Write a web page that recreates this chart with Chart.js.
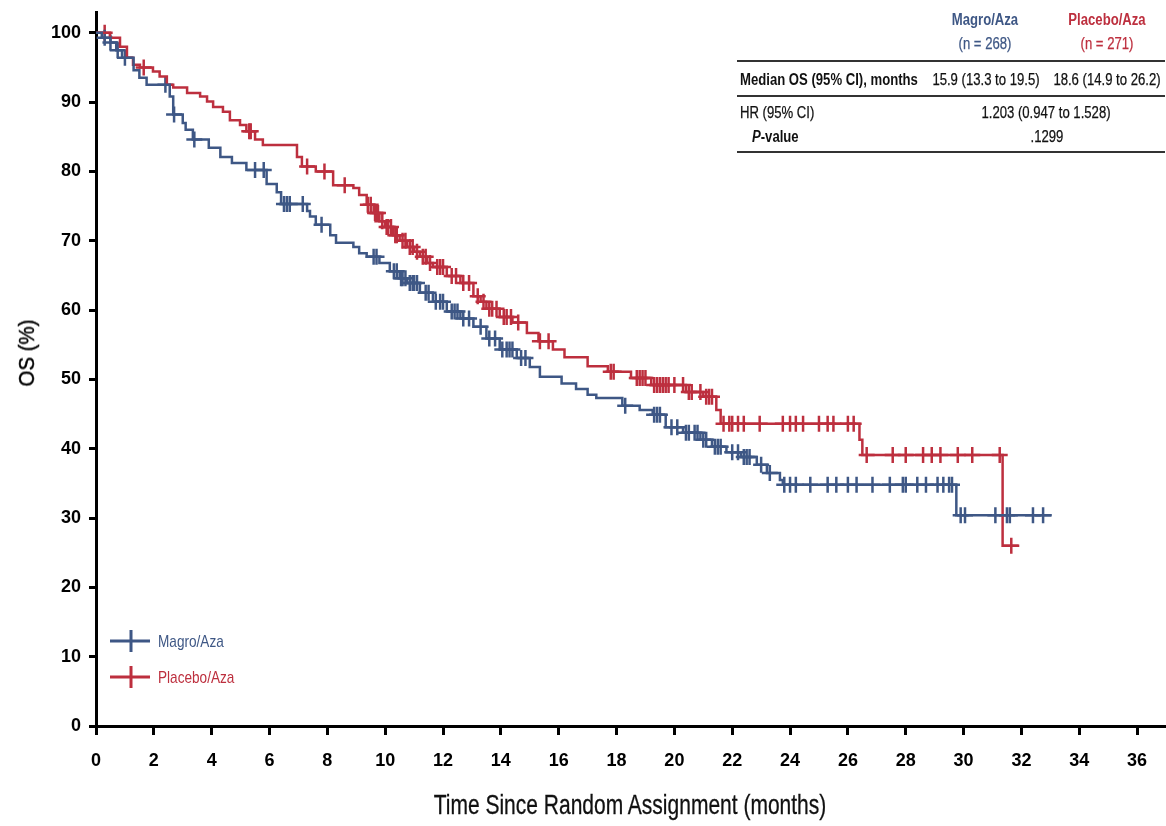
<!DOCTYPE html>
<html>
<head>
<meta charset="utf-8">
<script src="https://cdn.jsdelivr.net/npm/chart.js@4.4.1/dist/chart.umd.min.js"></script>
<style>
  body { margin: 0; background: #fff; }
  #wrap { position: relative; width: 1166px; height: 826px; overflow: hidden; }
  #chart { position: absolute; left: 0; top: 0; }
  .t { position: absolute; font-family: 'Liberation Sans', Arial, sans-serif; font-size: 16px; color: #111; white-space: nowrap; line-height: 18px; transform-origin: left top; transform: scaleX(0.82); -webkit-text-stroke: 0.25px currentColor; }
  .c { transform-origin: center top; transform: translateX(-50%) scaleX(0.82); }
  .b { font-weight: bold; -webkit-text-stroke: 0; }
  .rule { position: absolute; left: 737px; width: 428px; background: #333; }
  #xtitle { position: absolute; left: 630px; top: 788px; font-family: 'Liberation Sans', Arial, sans-serif; font-size: 28px; line-height: 34px; color: #111; white-space: nowrap; transform: translateX(-50%) scaleX(0.75); -webkit-text-stroke: 0.3px #111; }
  #ytitle { position: absolute; left: 27px; top: 353px; font-family: 'Liberation Sans', Arial, sans-serif; font-size: 22px; line-height: 26px; color: #000; white-space: nowrap; transform: translate(-50%, -50%) rotate(-90deg) scaleX(0.93); -webkit-text-stroke: 0.4px #000; }
</style>
</head>
<body>
<div id="wrap">
  <canvas id="chart" width="1166" height="826"></canvas>

  <div class="t c b" style="left:985px; top:11px; color:#3e5785;">Magro/Aza</div>
  <div class="t c" style="left:985px; top:35px; color:#3e5785;">(n = 268)</div>
  <div class="t c b" style="left:1107px; top:11px; color:#bd2f3e;">Placebo/Aza</div>
  <div class="t c" style="left:1107px; top:35px; color:#bd2f3e;">(n = 271)</div>
  <div class="rule" style="top:60px; height:2px;"></div>
  <div class="t b" style="left:740px; top:71px;">Median OS (95% CI), months</div>
  <div class="t c" style="left:986px; top:71px;">15.9 (13.3 to 19.5)</div>
  <div class="t c" style="left:1107px; top:71px;">18.6 (14.9 to 26.2)</div>
  <div class="rule" style="top:95px; height:1.5px;"></div>
  <div class="t" style="left:740px; top:104px;">HR (95% CI)</div>
  <div class="t c" style="left:1046px; top:104px;">1.203 (0.947 to 1.528)</div>
  <div class="t b" style="left:752px; top:128px;"><i>P</i>-value</div>
  <div class="t c" style="left:1047px; top:128px;">.1299</div>
  <div class="rule" style="top:151px; height:1.5px;"></div>

  <div id="xtitle">Time Since Random Assignment (months)</div>
  <div id="ytitle">OS (%)</div>
</div>

<script>
const FONT = "'Liberation Sans', Arial, sans-serif";
const BLUE = '#3e5785';
const RED = '#bd2f3e';

const seriesNames = ['Magro/Aza', 'Placebo/Aza'];
const xTicks = [0, 2, 4, 6, 8, 10, 12, 14, 16, 18, 20, 22, 24, 26, 28, 30, 32, 34, 36];
const yTicks = [0, 10, 20, 30, 40, 50, 60, 70, 80, 90, 100];

// Magro/Aza survival steps (months, %)
const magroTimes = [0, 0.2, 0.5, 0.7, 0.9, 1.3, 1.5, 1.75, 2.55, 2.67, 3.0, 3.1, 3.35, 3.9, 4.3, 4.7, 5.2, 5.9, 6.25, 6.4,
  7.3, 7.4, 7.6, 8.1, 8.3, 8.9, 9.1, 9.36, 9.8, 10.16, 10.5, 10.75, 11.2, 11.65, 12.13, 12.6, 13.05, 13.5, 13.96, 14.55,
  15.0, 15.35, 16.1, 16.6, 17.0, 17.3, 18.2, 18.8, 19.25, 19.7, 20.3, 20.9, 21.3, 21.8, 22.3, 22.85, 23.2, 23.65, 23.75, 29.75, 33.05];
const magroSurv = [100, 99.3, 98.6, 97.5, 96.4, 94.6, 93.5, 92.5, 90.8, 88.2, 87, 86, 84.6, 83.4, 82.1, 81.2, 80.2, 78.2, 77, 75.3,
  74.3, 73.5, 72.3, 70.8, 69.7, 69.1, 68.2, 67.7, 66.8, 65.6, 64.6, 63.9, 62.5, 61.2, 59.8, 58.8, 57.6, 55.9, 54.3, 53.1,
  51.8, 50.4, 49.4, 48.6, 47.8, 47.3, 46.2, 45.6, 44.9, 43.1, 42.3, 41.3, 40.3, 39.5, 38.8, 37.7, 36.5, 35.5, 34.8, 30.4, 30.4];

// Magro/Aza censored patients
const magroCensorTimes = [
  0.3, 0.5, 0.75, 1.0, 2.4, 2.7, 3.4, 5.5, 5.8, 6.5, 6.6, 6.7, 7.15, 7.8,
  9.6, 9.7, 10.3, 10.4, 10.55, 10.6, 10.7, 10.85, 10.95, 11.0, 11.1, 11.4, 11.5,
  11.75, 11.9, 12.0, 12.3, 12.4, 12.5, 12.7, 12.9, 13.3, 13.6, 13.8, 14.05, 14.2, 14.3, 14.4, 14.7, 14.85,
  18.3, 19.3, 19.4, 19.5, 19.9, 20.1, 20.4, 20.5, 20.7, 20.8, 21.0, 21.1, 21.4, 21.5, 21.6,
  22.0, 22.2, 22.4, 22.5, 22.6, 23.0, 23.3, 23.8,
  24.0, 24.2, 24.7, 25.3, 25.6, 26.0, 26.3, 26.85, 27.45, 27.9, 28.0, 28.4, 28.7, 29.1, 29.3, 29.5, 29.6,
  29.9, 30.05, 31.1, 31.5, 31.6, 32.4, 32.75];
const magroCensorSurv = [
  99.3, 98.6, 97.5, 96.4, 92.5, 88.2, 84.6, 80.2, 80.2, 75.3, 75.3, 75.3, 75.3, 72.3,
  67.7, 67.7, 65.6, 65.6, 64.6, 64.6, 64.6, 63.9, 63.9, 63.9, 63.9, 62.5, 62.5,
  61.2, 61.2, 61.2, 59.8, 59.8, 59.8, 58.8, 58.8, 57.6, 55.9, 55.9, 54.3, 54.3, 54.3, 54.3, 53.1, 53.1,
  46.2, 44.9, 44.9, 44.9, 43.1, 43.1, 42.3, 42.3, 42.3, 42.3, 41.3, 41.3, 40.3, 40.3, 40.3,
  39.5, 39.5, 38.8, 38.8, 38.8, 37.7, 36.5, 34.8,
  34.8, 34.8, 34.8, 34.8, 34.8, 34.8, 34.8, 34.8, 34.8, 34.8, 34.8, 34.8, 34.8, 34.8, 34.8, 34.8, 34.8,
  30.4, 30.4, 30.4, 30.4, 30.4, 30.4, 30.4];

// Placebo/Aza survival steps (months, %)
const placeboTimes = [0, 0.48, 0.83, 1.07, 1.28, 1.52, 1.97, 2.2, 2.45, 2.67, 3.15, 3.6, 3.84, 4.05, 4.39, 4.63, 4.98, 5.2, 5.5, 5.77,
  6.95, 7.12, 7.6, 8.2, 8.9, 9.1, 9.36, 9.6, 9.8, 10.0, 10.27, 10.5, 10.75, 11.0, 11.2, 11.45, 11.65, 12.13, 12.6, 13.05,
  13.3, 13.5, 13.96, 14.4, 14.9, 15.3, 15.8, 16.2, 17.0, 17.7, 18.5, 19.2, 20.4, 21.0, 21.45, 21.6, 26.4, 26.5, 31.35, 31.9];
const placeboSurv = [100, 99.3, 98, 96.4, 95.4, 95, 94.4, 93.7, 92.5, 92.1, 91.3, 90.8, 90.1, 89.3, 88.6, 87.4, 86.7, 85.8, 84.6, 83.8,
  82.1, 80.7, 80.0, 78.0, 77.6, 76.6, 75.2, 74, 72.8, 72, 70.8, 70, 69.1, 68.4, 67.7, 66.8, 66.2, 64.9, 63.9, 62,
  61.2, 60.2, 59, 58.2, 56.7, 55.5, 54.3, 53.2, 51.9, 51.1, 50.2, 49.2, 48.2, 47.5, 45.6, 43.6, 41.3, 39.1, 26.0, 26.0];

// Placebo/Aza censored patients
const placeboCensorTimes = [
  0.3, 1.65, 5.3, 5.35, 7.3, 7.9, 8.6, 9.4, 9.5, 9.65, 9.7, 9.75, 9.9, 10.05, 10.1, 10.2, 10.35, 10.4,
  10.6, 10.7, 10.85, 10.95, 11.1, 11.3, 11.4, 11.55, 11.8, 11.9, 12.0, 12.3, 12.45, 12.7, 12.9,
  13.2, 13.4, 13.6, 13.7, 13.85, 14.1, 14.2, 14.35, 14.6, 15.35, 15.65, 17.8, 17.9,
  18.7, 18.8, 18.9, 19.0, 19.3, 19.4, 19.5, 19.6, 19.7, 19.8, 20.0, 20.3, 20.5, 20.6, 20.9, 21.1, 21.2, 21.3,
  21.7, 21.9, 22.0, 22.2, 22.4, 22.95, 23.75, 24.0, 24.2, 24.45, 25.0, 25.3, 25.5, 26.0, 26.2,
  26.65, 27.55, 28.0, 28.6, 28.9, 29.2, 29.8, 30.3, 31.25, 31.65];
const placeboCensorSurv = [
  100, 95, 85.8, 85.8, 80.7, 80.0, 78.0, 75.2, 75.2, 74, 74, 74, 72.8, 72, 72, 72, 70.8, 70.8,
  70, 70, 69.1, 69.1, 68.4, 67.7, 67.7, 66.8, 66.2, 66.2, 66.2, 64.9, 64.9, 63.9, 63.9,
  62, 61.2, 60.2, 60.2, 60.2, 59, 59, 59, 58.2, 55.5, 55.5, 51.1, 51.1,
  50.2, 50.2, 50.2, 50.2, 49.2, 49.2, 49.2, 49.2, 49.2, 49.2, 49.2, 49.2, 48.2, 48.2, 48.2, 47.5, 47.5, 47.5,
  43.6, 43.6, 43.6, 43.6, 43.6, 43.6, 43.6, 43.6, 43.6, 43.6, 43.6, 43.6, 43.6, 43.6, 43.6,
  39.1, 39.1, 39.1, 39.1, 39.1, 39.1, 39.1, 39.1, 39.1, 26.0];

const pairs = (xs, ys) => xs.map((x, i) => ({ x: x, y: ys[i] }));

// legend drawn inside the plot, lower left
const legendPlugin = {
  id: 'kmLegend',
  afterDatasetsDraw(chart) {
    const ctx = chart.ctx;
    const items = [
      { label: seriesNames[0], color: BLUE, y: 641 },
      { label: seriesNames[1], color: RED, y: 677 }
    ];
    ctx.save();
    items.forEach(it => {
      ctx.strokeStyle = it.color;
      ctx.lineWidth = 3;
      ctx.beginPath();
      ctx.moveTo(110, it.y); ctx.lineTo(150, it.y);
      ctx.moveTo(131, it.y - 11); ctx.lineTo(131, it.y + 11);
      ctx.stroke();
      ctx.save();
      ctx.translate(158, it.y + 1);
      ctx.scale(0.8, 1);
      ctx.fillStyle = it.color;
      ctx.font = '17px ' + FONT;
      ctx.textBaseline = 'middle';
      ctx.fillText(it.label, 0, 0);
      ctx.restore();
    });
    ctx.restore();
  }
};

new Chart(document.getElementById('chart'), {
  type: 'scatter',
  data: {
    datasets: [
      {
        label: seriesNames[0],
        data: pairs(magroTimes, magroSurv),
        showLine: true, stepped: 'before',
        borderColor: BLUE, borderWidth: 2.5, pointRadius: 0
      },
      {
        label: seriesNames[1],
        data: pairs(placeboTimes, placeboSurv),
        showLine: true, stepped: 'before',
        borderColor: RED, borderWidth: 2.5, pointRadius: 0
      },
      {
        label: seriesNames[0] + ' censored',
        data: pairs(magroCensorTimes, magroCensorSurv),
        pointStyle: 'cross', pointRadius: 8, borderColor: BLUE, borderWidth: 2.5
      },
      {
        label: seriesNames[1] + ' censored',
        data: pairs(placeboCensorTimes, placeboCensorSurv),
        pointStyle: 'cross', pointRadius: 8, borderColor: RED, borderWidth: 2.5
      }
    ]
  },
  options: {
    responsive: false,
    animation: false,
    layout: { autoPadding: false, padding: { top: 12, right: 0, bottom: 0, left: 0 } },
    plugins: { legend: { display: false }, tooltip: { enabled: false } },
    scales: {
      x: {
        type: 'linear', min: 0, max: 37,
        afterBuildTicks: s => { s.ticks = xTicks.map(v => ({ value: v })); },
        afterFit: s => { s.height = 100; s.paddingLeft = 0; s.paddingRight = 0; },
        ticks: { color: '#000', font: { family: FONT, size: 18, weight: 'bold' }, padding: 15, maxRotation: 0 },
        grid: { drawOnChartArea: false, drawTicks: true, tickLength: 9, tickWidth: 3, tickColor: '#000' },
        border: { display: true, color: '#000', width: 3 }
      },
      y: {
        type: 'linear', min: 0, max: 103,
        afterBuildTicks: s => { s.ticks = yTicks.map(v => ({ value: v })); },
        afterFit: s => { s.width = 96; s.paddingTop = 0; s.paddingBottom = 0; },
        ticks: { color: '#000', font: { family: FONT, size: 18, weight: 'bold' }, padding: 8 },
        grid: { drawOnChartArea: false, drawTicks: true, tickLength: 7, tickWidth: 3, tickColor: '#000' },
        border: { display: true, color: '#000', width: 3 }
      }
    }
  },
  plugins: [legendPlugin]
});
</script>
</body>
</html>
